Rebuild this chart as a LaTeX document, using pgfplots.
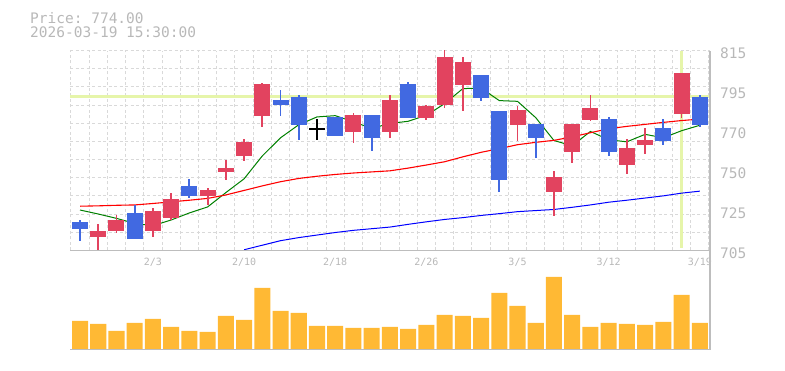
\documentclass[border=0pt]{standalone}
\usepackage{pgfplots}
\pgfplotsset{compat=1.18}
\usepackage{pgfplotstable}
\usepackage{fontspec}
\setmonofont{DejaVu Sans Mono}
\definecolor{upc}{HTML}{E2435F}
\definecolor{dnc}{HTML}{4169E1}
\definecolor{volc}{HTML}{FFB934}
\definecolor{gridc}{HTML}{D9D9D9}
\definecolor{axc}{HTML}{BDBDBD}
\definecolor{txtc}{HTML}{B8B8B8}
\definecolor{hlc}{HTML}{E6F5AA}
\definecolor{mag}{HTML}{008000}

\pgfplotstableread{
i o h l c
1 712.1 719.6 705.0 715.7
2 715.4 724.4 714.3 721.8
4 715.9 728.4 712.1 726.7
5 722.9 736.7 721.8 733.3
7 735.2 739.4 730.0 738.3
8 748.4 754.8 743.8 750.4
9 757.0 766.4 754.4 764.7
10 779.2 797.0 773.2 796.7
15 770.2 780.7 764.2 779.6
17 770.2 790.6 766.9 787.8
19 778.1 784.8 777.0 784.5
20 785.1 815.4 783.3 811.5
21 796.1 811.5 781.8 808.8
24 774.1 784.5 765.3 782.3
26 737.2 748.8 724.0 745.5
27 759.2 774.6 753.2 774.6
28 776.8 790.6 776.3 783.4
30 752.1 766.4 747.1 761.4
31 763.1 772.4 758.1 765.8
33 780.1 802.7 777.9 802.7
}\upT

\pgfplotstableread{
i o h l c
0 720.7 721.8 710.4 717.0
3 725.6 729.7 711.0 711.0
6 740.5 744.4 734.1 735.2
11 787.8 793.3 779.2 785.1
12 789.5 790.6 765.8 774.3
14 778.5 778.6 768.1 768.2
16 779.6 779.7 759.8 766.9
18 796.7 797.8 778.0 778.1
22 801.6 801.7 787.5 788.9
23 781.8 781.9 737.2 743.8
25 774.6 774.7 755.9 766.9
29 777.4 778.5 757.0 759.2
32 772.4 777.4 763.1 765.3
34 789.5 790.6 773.0 774.1
}\dnT

\pgfplotstableread{
i o h l c
13 771.35 777.4 765.8 772.45
}\djT

\pgfplotstableread{
i v
0 727.2
1 725.0
2 722.6
3 719.8
4 718.6
5 721.7
6 725.6
7 728.9
8 736.8
9 744.4
10 757.0
11 767.0
12 774.2
13 778.5
14 779.2
15 775.8
16 772.2
17 774.9
18 776.1
19 779.4
20 785.8
21 794.1
22 794.4
23 787.5
24 787.1
25 778.1
26 765.5
27 762.6
28 770.5
29 765.9
30 764.8
31 768.9
32 767.0
33 770.9
34 773.9
}\maG

\pgfplotstableread{
i v
0 729.3
1 729.5
2 729.8
3 730.0
4 730.8
5 731.7
6 732.6
7 733.6
8 735.5
9 738.0
10 740.5
11 742.8
12 744.6
13 745.8
14 746.8
15 747.6
16 748.2
17 748.8
18 750.3
19 752.0
20 753.8
21 756.5
22 759.0
23 761.0
24 763.2
25 764.5
26 765.6
27 767.5
28 769.8
29 772.0
30 773.3
31 774.4
32 775.5
33 776.5
34 777.3
}\maR

\pgfplotstableread{
i v
9 705.3
10 707.8
11 710.3
12 712.0
13 713.4
14 714.8
15 716.0
16 716.9
17 717.8
18 719.3
19 720.7
20 722.0
21 723.0
22 724.2
23 725.2
24 726.3
25 726.9
26 727.5
27 728.7
28 730.0
29 731.5
30 732.6
31 733.8
32 735.0
33 736.5
34 737.6
}\maB

\pgfplotstableread{
i v
0 28
1 25
2 18
3 26
4 30
5 22
6 18
7 17
8 33
9 29
10 61
11 38
12 36
13 23
14 23
15 21
16 21
17 22
18 20
19 24
20 34
21 33
22 31
23 56
24 43
25 26
26 72
27 34
28 22
29 26
30 25
31 24
32 27
33 54
34 26
}\volT

\begin{document}
\begin{tikzpicture}
\useasboundingbox (0,0) rectangle (785pt,370pt);
\begin{axis}[name=price, at={(70pt,119.7pt)}, anchor=south west,
  scale only axis, width=640pt, height=199.6pt,
  xmin=-0.55, xmax=34.56, ymin=705, ymax=815,
  axis line style={draw=none},
  major tick length=0pt, minor tick length=0pt,
  xtick={4,9,14,19,24,29,34},
  xticklabels={2/3,2/10,2/18,2/26,3/5,3/12,3/19},
  minor xtick={-0.5,0.5,...,34.5}, xminorgrids,
  ytick={705,727,749,771,793,815},
  yticklabels={705,725,750,770,795,815},
  minor ytick={705,715,...,815}, yminorgrids,
  minor grid style={gridc, dash pattern=on 3pt off 2.5pt, line width=1pt},
  yticklabel pos=right,
  yticklabel style={font=\ttfamily\fontsize{14.5}{16}\selectfont, text=txtc, anchor=west, inner sep=0pt, xshift=10pt, yshift=-2.6pt},
  xticklabel style={font=\ttfamily\fontsize{10}{12}\selectfont, text=txtc, anchor=north, inner sep=0pt, yshift=-8pt},
]
\addplot[hlc, line width=3pt] coordinates {(-0.55,789.5) (34.56,789.5)};
\addplot[hlc, line width=2.8pt] coordinates {(33,706.5) (33,814.8)};
\addplot[mag, line width=1pt] table[x=i,y=v]{\maG};
\addplot[red, line width=1.1pt] table[x=i,y=v]{\maR};
\addplot[blue, line width=1pt] table[x=i,y=v]{\maB};
% wicks
\addplot[draw=none, mark=none, error bars/.cd, y dir=both, y explicit, error mark=none,
  error bar style={draw=upc, line width=1.8pt}]
  table[x=i, y expr={(\thisrow{h}+\thisrow{l})/2}, y error expr={(\thisrow{h}-\thisrow{l})/2}] {\upT};
\addplot[draw=none, mark=none, error bars/.cd, y dir=both, y explicit, error mark=none,
  error bar style={draw=dnc, line width=1.8pt}]
  table[x=i, y expr={(\thisrow{h}+\thisrow{l})/2}, y error expr={(\thisrow{h}-\thisrow{l})/2}] {\dnT};
\addplot[draw=none, mark=none, error bars/.cd, y dir=both, y explicit, error mark=none,
  error bar style={draw=black, line width=1.8pt}]
  table[x=i, y expr={(\thisrow{h}+\thisrow{l})/2}, y error expr={(\thisrow{h}-\thisrow{l})/2}] {\djT};
% bodies
\addplot[draw=none, mark=none, error bars/.cd, y dir=both, y explicit, error mark=none,
  error bar style={draw=upc, line width=16pt}]
  table[x=i, y expr={(\thisrow{o}+\thisrow{c})/2}, y error expr={(\thisrow{c}-\thisrow{o})/2}] {\upT};
\addplot[draw=none, mark=none, error bars/.cd, y dir=both, y explicit, error mark=none,
  error bar style={draw=dnc, line width=16pt}]
  table[x=i, y expr={(\thisrow{o}+\thisrow{c})/2}, y error expr={(\thisrow{o}-\thisrow{c})/2}] {\dnT};
\addplot[draw=none, mark=none, error bars/.cd, y dir=both, y explicit, error mark=none,
  error bar style={draw=black, line width=16pt}]
  table[x=i, y expr={(\thisrow{o}+\thisrow{c})/2}, y error expr={(\thisrow{c}-\thisrow{o})/2}] {\djT};
\end{axis}

\begin{axis}[name=vol, at={(70pt,20.5pt)}, anchor=south west,
  scale only axis, width=640pt, height=99.2pt,
  xmin=-0.55, xmax=34.56, ymin=-0.5, ymax=98.7,
  axis line style={draw=none},
  xtick=\empty, ytick=\empty,
  major tick length=0pt, minor tick length=0pt,
  minor xtick={-0.5,0.5,...,34.5}, xminorgrids,
  minor grid style={gridc, dash pattern=on 3pt off 2.5pt, line width=1pt},
]
\addplot[ybar, bar width=0.88, fill=volc, draw=none] table[x=i,y=v]{\volT};
\end{axis}

\draw[axc, line width=1.3pt] (70pt,119.7pt) -- (710pt,119.7pt);
\draw[axc, line width=1.3pt] (70pt,20.5pt) -- (710pt,20.5pt);
\draw[axc, line width=1.3pt] (710pt,20.5pt) -- (710pt,319.3pt);

\node[anchor=base west, inner sep=0pt, text=txtc, font=\ttfamily\fontsize{14.5}{16}\selectfont] at (30pt,346.7pt) {Price: 774.00};
\node[anchor=base west, inner sep=0pt, text=txtc, font=\ttfamily\fontsize{14.5}{16}\selectfont] at (30pt,332.7pt) {2026-03-19 15:30:00};
\end{tikzpicture}
\end{document}
